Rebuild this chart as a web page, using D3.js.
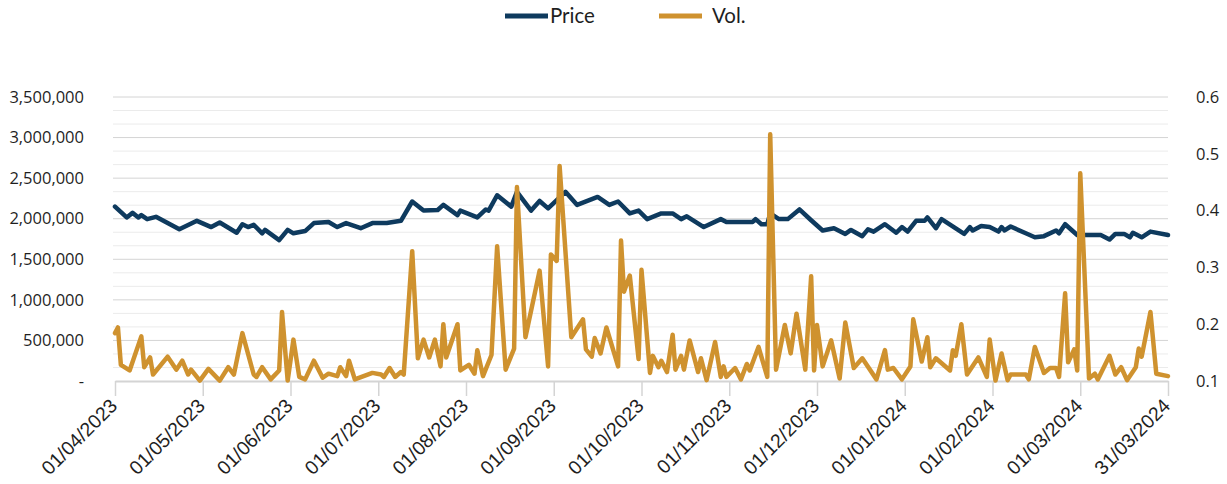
<!DOCTYPE html>
<html>
<head>
<meta charset="utf-8">
<script src="https://cdn.jsdelivr.net/npm/d3@7"></script>
<style>
  html, body { margin: 0; padding: 0; background: #ffffff; }
  svg { display: block; }
</style>
</head>
<body>
<svg id="chart" width="1227" height="484"></svg>
<script>
// Axis tick dates (equally spaced along the bottom axis)
const tickDates = ["2023-04-01","2023-05-01","2023-06-01","2023-07-01","2023-08-01","2023-09-01",
  "2023-10-01","2023-11-01","2023-12-01","2024-01-01","2024-02-01","2024-03-01","2024-03-31"];
const volTicks = [0, 500000, 1000000, 1500000, 2000000, 2500000, 3000000, 3500000];
const priceTicks = [0.1, 0.2, 0.3, 0.4, 0.5, 0.6];

// Price series (right axis)
const priceDates = ["2023-04-01","2023-04-05","2023-04-07","2023-04-09","2023-04-10","2023-04-12","2023-04-15",
  "2023-04-23","2023-04-29","2023-05-04","2023-05-07","2023-05-13","2023-05-15","2023-05-17","2023-05-19",
  "2023-05-22","2023-05-23","2023-05-28","2023-05-31","2023-06-02","2023-06-06","2023-06-09","2023-06-14",
  "2023-06-17","2023-06-20","2023-06-25","2023-06-29","2023-07-04","2023-07-09","2023-07-13","2023-07-17",
  "2023-07-22","2023-07-24","2023-07-29","2023-07-30","2023-08-05","2023-08-08","2023-08-09","2023-08-12",
  "2023-08-17","2023-08-19","2023-08-24","2023-08-27","2023-08-30","2023-09-05","2023-09-09","2023-09-16",
  "2023-09-20","2023-09-23","2023-09-27","2023-09-30","2023-10-03","2023-10-08","2023-10-12","2023-10-15",
  "2023-10-17","2023-10-23","2023-10-29","2023-10-31","2023-11-09","2023-11-10","2023-11-12","2023-11-14",
  "2023-11-15","2023-11-18","2023-11-21","2023-11-25","2023-11-29","2023-12-03","2023-12-07","2023-12-11",
  "2023-12-13","2023-12-17","2023-12-19","2023-12-21","2023-12-25","2023-12-29","2023-12-31","2024-01-02",
  "2024-01-05","2024-01-08","2024-01-09","2024-01-12","2024-01-14","2024-01-22","2024-01-24","2024-01-25",
  "2024-01-28","2024-01-31","2024-02-03","2024-02-04","2024-02-05","2024-02-07","2024-02-12","2024-02-15",
  "2024-02-18","2024-02-22","2024-02-23","2024-02-25","2024-02-29","2024-03-08","2024-03-11","2024-03-13",
  "2024-03-16","2024-03-18","2024-03-19","2024-03-22","2024-03-25","2024-03-31"];
const priceValues = [0.407,0.388,0.396,0.388,0.392,0.385,0.389,
  0.367,0.382,0.371,0.379,0.361,0.376,0.371,0.375,
  0.360,0.366,0.348,0.366,0.360,0.364,0.378,0.380,
  0.371,0.378,0.369,0.378,0.378,0.382,0.416,0.400,
  0.401,0.410,0.392,0.400,0.388,0.402,0.400,0.427,
  0.407,0.433,0.400,0.417,0.404,0.433,0.410,0.424,
  0.410,0.416,0.395,0.400,0.385,0.395,0.395,0.385,
  0.390,0.371,0.385,0.380,0.380,0.385,0.376,0.376,
  0.395,0.385,0.385,0.402,0.383,0.365,0.369,0.359,
  0.366,0.355,0.367,0.363,0.376,0.361,0.371,0.363,
  0.382,0.382,0.388,0.369,0.385,0.359,0.371,0.365,
  0.373,0.371,0.363,0.371,0.365,0.372,0.360,0.353,
  0.355,0.365,0.360,0.376,0.357,0.357,0.349,0.359,
  0.359,0.353,0.361,0.353,0.363,0.357];

// Traded volume series (left axis)
const volDates = ["2023-04-01","2023-04-02","2023-04-03","2023-04-06","2023-04-10","2023-04-11","2023-04-13",
  "2023-04-14","2023-04-19","2023-04-22","2023-04-24","2023-04-26","2023-04-27","2023-04-30","2023-05-03",
  "2023-05-07","2023-05-10","2023-05-12","2023-05-15","2023-05-19","2023-05-20","2023-05-22","2023-05-25",
  "2023-05-28","2023-05-29","2023-05-31","2023-06-02","2023-06-04","2023-06-06","2023-06-09","2023-06-12",
  "2023-06-14","2023-06-17","2023-06-18","2023-06-20","2023-06-21","2023-06-23","2023-06-29","2023-07-02",
  "2023-07-03","2023-07-05","2023-07-07","2023-07-09","2023-07-10","2023-07-13","2023-07-15","2023-07-17",
  "2023-07-19","2023-07-21","2023-07-23","2023-07-24","2023-07-25","2023-07-29","2023-07-30","2023-08-02",
  "2023-08-04","2023-08-05","2023-08-07","2023-08-10","2023-08-12","2023-08-15","2023-08-18","2023-08-19",
  "2023-08-22","2023-08-27","2023-08-30","2023-08-31","2023-09-02","2023-09-03","2023-09-07","2023-09-11",
  "2023-09-12","2023-09-14","2023-09-15","2023-09-17","2023-09-19","2023-09-23","2023-09-24","2023-09-25",
  "2023-09-27","2023-09-30","2023-10-01","2023-10-04","2023-10-05","2023-10-07","2023-10-08","2023-10-10",
  "2023-10-12","2023-10-13","2023-10-15","2023-10-16","2023-10-18","2023-10-21","2023-10-22","2023-10-24",
  "2023-10-27","2023-10-29","2023-10-30","2023-10-31","2023-11-03","2023-11-05","2023-11-07","2023-11-08",
  "2023-11-11","2023-11-14","2023-11-15","2023-11-17","2023-11-20","2023-11-22","2023-11-24","2023-11-27",
  "2023-11-29","2023-11-30","2023-12-01","2023-12-03","2023-12-06","2023-12-09","2023-12-11","2023-12-14",
  "2023-12-17","2023-12-22","2023-12-25","2023-12-26","2023-12-28","2023-12-31","2024-01-03","2024-01-04",
  "2024-01-07","2024-01-09","2024-01-10","2024-01-12","2024-01-17","2024-01-18","2024-01-19","2024-01-21",
  "2024-01-23","2024-01-27","2024-01-30","2024-01-31","2024-02-02","2024-02-04","2024-02-06","2024-02-07",
  "2024-02-12","2024-02-13","2024-02-15","2024-02-18","2024-02-20","2024-02-22","2024-02-23","2024-02-25",
  "2024-02-26","2024-02-28","2024-02-29","2024-03-01","2024-03-04","2024-03-06","2024-03-07","2024-03-11",
  "2024-03-13","2024-03-15","2024-03-17","2024-03-20","2024-03-21","2024-03-22","2024-03-25","2024-03-27",
  "2024-03-31"];
const volValues = [590000,660000,200000,130000,550000,170000,290000,
  80000,300000,140000,250000,80000,140000,5000,150000,
  5000,170000,80000,590000,80000,50000,170000,20000,
  130000,850000,5000,510000,50000,20000,250000,40000,
  90000,60000,170000,60000,250000,20000,100000,80000,
  50000,160000,50000,110000,80000,1600000,280000,510000,
  290000,510000,180000,700000,290000,700000,130000,200000,
  90000,380000,60000,320000,1660000,140000,400000,2390000,
  540000,1360000,180000,1560000,1480000,2650000,540000,760000,
  390000,300000,530000,340000,660000,180000,1730000,1100000,
  1300000,270000,1370000,100000,310000,170000,250000,110000,
  570000,140000,310000,140000,500000,110000,280000,10000,
  480000,50000,180000,50000,160000,20000,210000,130000,
  420000,50000,3040000,140000,690000,340000,830000,140000,
  1290000,130000,690000,180000,500000,30000,720000,160000,
  280000,20000,380000,140000,160000,20000,180000,760000,
  240000,540000,170000,280000,130000,380000,310000,700000,
  80000,290000,50000,510000,5000,340000,10000,80000,
  80000,20000,420000,100000,160000,160000,50000,1080000,
  230000,390000,130000,2560000,30000,90000,20000,310000,
  80000,170000,10000,170000,400000,300000,850000,90000,
  60000];

const NAVY = "#0e3a5e";
const GOLD = "#cf922f";
const TEXT = "#1f1f1f";

const parse = d3.timeParse("%Y-%m-%d");
const svg = d3.select("#chart");

const plot = { left: 115, right: 1168, top: 97, bottom: 381 };

// Ticks are evenly spaced, so the time scale is piecewise across the tick dates
const xTicks = tickDates.map(parse);
const step = (plot.right - plot.left) / (xTicks.length - 1);
const x = d3.scaleTime()
  .domain(xTicks)
  .range(xTicks.map((d, i) => plot.left + i * step));

const yVol = d3.scaleLinear().domain([0, 3500000]).range([plot.bottom, plot.top]);
const yPrice = d3.scaleLinear().domain([0.1, 0.6]).range([plot.bottom, plot.top]);

// Gridlines: major every 500,000 with two lighter lines between
const minorVals = [];
for (let i = 0; i < volTicks.length - 1; i++) {
  const a = volTicks[i], b = volTicks[i + 1];
  minorVals.push(a + (b - a) / 3, a + 2 * (b - a) / 3);
}
svg.append("g").selectAll("line").data(minorVals).join("line")
  .attr("x1", plot.left - 2).attr("x2", plot.right)
  .attr("y1", d => yVol(d)).attr("y2", d => yVol(d))
  .attr("stroke", "#ebebeb").attr("stroke-width", 1);
svg.append("g").selectAll("line").data(volTicks.filter(v => v > 0)).join("line")
  .attr("x1", plot.left - 2).attr("x2", plot.right)
  .attr("y1", d => yVol(d)).attr("y2", d => yVol(d))
  .attr("stroke", "#d4d4d4").attr("stroke-width", 1);

// Bottom axis
const xAxis = svg.append("g")
  .attr("transform", `translate(0,${plot.bottom})`)
  .call(d3.axisBottom(x).tickValues(xTicks).tickSize(15).tickSizeOuter(0)
    .tickFormat(d3.timeFormat("%d/%m/%Y")));
xAxis.select(".domain").attr("stroke", "#d4d4d4").attr("stroke-width", 2);
xAxis.selectAll(".tick line").attr("stroke", "#d4d4d4").attr("stroke-width", 1.5);
xAxis.selectAll(".tick text")
  .attr("font-family", "'Liberation Sans', Arial, sans-serif")
  .attr("font-size", 19.5)
  .attr("fill", TEXT)
  .attr("text-anchor", "end")
  .attr("y", 0).attr("dy", 0)
  .attr("transform", "translate(3,26) rotate(-45)");

// Left axis (volume)
const yAxisL = svg.append("g")
  .attr("transform", `translate(84,0)`)
  .call(d3.axisLeft(yVol).tickValues(volTicks).tickSize(0).tickPadding(0)
    .tickFormat(d => d === 0 ? "-" : d3.format(",")(d)));
yAxisL.select(".domain").remove();
yAxisL.selectAll("text")
  .attr("font-family", "'Open Sans', sans-serif").attr("font-size", 16.5).attr("fill", TEXT);

// Right axis (price)
const yAxisR = svg.append("g")
  .attr("transform", `translate(1196,0)`)
  .call(d3.axisRight(yPrice).tickValues(priceTicks).tickSize(0).tickPadding(0)
    .tickFormat(d3.format(".1f")));
yAxisR.select(".domain").remove();
yAxisR.selectAll("text")
  .attr("font-family", "'Open Sans', sans-serif").attr("font-size", 16.5).attr("fill", TEXT);

// Lines
const priceData = priceDates.map((d, i) => ({ date: parse(d), value: priceValues[i] }));
const volData = volDates.map((d, i) => ({ date: parse(d), value: volValues[i] }));

svg.append("path").datum(priceData)
  .attr("fill", "none").attr("stroke", NAVY).attr("stroke-width", 4.5)
  .attr("stroke-linejoin", "round").attr("stroke-linecap", "round")
  .attr("d", d3.line().x(d => x(d.date)).y(d => yPrice(d.value)));

svg.append("path").datum(volData)
  .attr("fill", "none").attr("stroke", GOLD).attr("stroke-width", 4.5)
  .attr("stroke-linejoin", "round").attr("stroke-linecap", "round")
  .attr("d", d3.line().x(d => x(d.date)).y(d => yVol(d.value)));

// Legend
const legend = [
  { label: "Price", color: NAVY, x: 505 },
  { label: "Vol.", color: GOLD, x: 659 }
];
const lg = svg.append("g").selectAll("g").data(legend).join("g")
  .attr("transform", d => `translate(${d.x},16)`);
lg.append("line").attr("x1", 0).attr("x2", 43).attr("y1", 0).attr("y2", 0)
  .attr("stroke", d => d.color).attr("stroke-width", 5);
lg.append("text")
  .attr("x", (d, i) => i === 0 ? 45 : 53).attr("y", 7)
  .attr("font-family", "Lato, sans-serif").attr("font-size", 20.5).attr("fill", TEXT)
  .text(d => d.label);
</script>
</body>
</html>
